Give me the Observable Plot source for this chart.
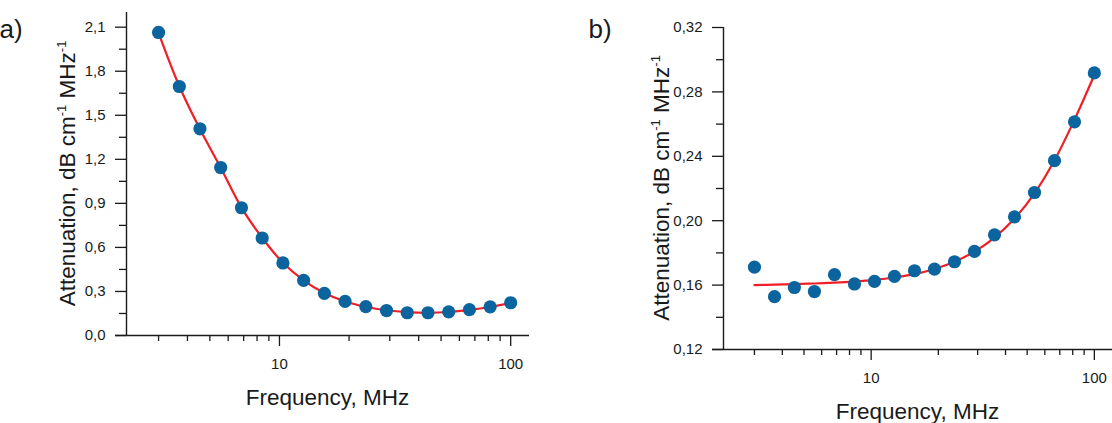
<!DOCTYPE html>
<html>
<head>
<meta charset="utf-8">
<script src="https://cdn.jsdelivr.net/npm/d3@7"></script>
<script src="https://cdn.jsdelivr.net/npm/@observablehq/plot@0.6"></script>
<style>
  body { margin: 0; background: #ffffff; }
  #fig { position: relative; width: 1112px; height: 423px; overflow: hidden; background: #ffffff; }
  #fig svg { position: absolute; top: 0; }
</style>
</head>
<body>
<div id="fig"></div>
<script>
// Measurement frequencies, MHz (shared by both samples)
const frequency = [3, 3.69, 4.53, 5.57, 6.85, 8.42, 10.35, 12.72, 15.64, 19.22, 23.63, 29.04, 35.7, 43.88, 53.94, 66.3, 81.5, 100];

// a) attenuation per unit frequency, dB cm^-1 MHz^-1, and its fitted curve
const attenuationA = [2.064, 1.696, 1.408, 1.144, 0.870, 0.664, 0.494, 0.375, 0.287, 0.232, 0.197, 0.170, 0.155, 0.155, 0.161, 0.176, 0.195, 0.223];
const fitA = [2.062, 1.698, 1.406, 1.143, 0.871, 0.666, 0.495, 0.376, 0.289, 0.232, 0.196, 0.172, 0.159, 0.155, 0.160, 0.174, 0.194, 0.221];

// b) attenuation per unit frequency, dB cm^-1 MHz^-1, and its fitted curve
const attenuationB = [0.1712, 0.1528, 0.1585, 0.1560, 0.1665, 0.1607, 0.1623, 0.1654, 0.1689, 0.1699, 0.1745, 0.1809, 0.1912, 0.2024, 0.2175, 0.2373, 0.2614, 0.2918];
const fitB = [0.1600, 0.1603, 0.1606, 0.1610, 0.1615, 0.1622, 0.1632, 0.1647, 0.1668, 0.1700, 0.1745, 0.1808, 0.1895, 0.2013, 0.2170, 0.2375, 0.2628, 0.2905];

// Axis ticks
const freqTicks = [10, 100];
const freqMinorTicks = [3, 4, 5, 6, 7, 8, 9, 20, 30, 40, 50, 60, 70, 80, 90];
const ticksA = [0, 0.3, 0.6, 0.9, 1.2, 1.5, 1.8, 2.1];
const minorTicksA = [0.15, 0.45, 0.75, 1.05, 1.35, 1.65, 1.95];
const ticksB = [0.12, 0.16, 0.20, 0.24, 0.28, 0.32];
const minorTicksB = [0.14, 0.18, 0.22, 0.26, 0.30];

const FONT = "'Liberation Sans', Arial, Helvetica, sans-serif";
const DOT = "#0b649d";
const FIT = "#ee1f26";
const INK = "#1a1a1a";

function panel({letter, values, fit, yDomain, yTicks, yMinor, decimals, left, margin, labelX, xLabelY, letterX}) {
  const width = 556, height = 423;
  const xDomain = [2.18, 120.6];
  const rows = frequency.map((f, i) => ({f, v: values[i], fit: fit[i]}));
  const fmt = d => d.toFixed(decimals).replace(".", ",");

  const svg = Plot.plot({
    width, height,
    marginLeft: margin.left, marginRight: margin.right,
    marginTop: margin.top, marginBottom: margin.bottom,
    x: {type: "log", domain: xDomain},
    y: {domain: yDomain},
    style: {fontFamily: FONT, fontSize: "15px", color: INK, background: "transparent", overflow: "visible"},
    marks: [
      // axis lines; the x axis runs under the y tick marks
      Plot.ruleX([xDomain[0]], {stroke: INK, strokeWidth: 1.4}),
      Plot.ruleY([yDomain[0]], {stroke: INK, strokeWidth: 1.4, insetLeft: -11}),
      Plot.axisY(yTicks, {tickSize: 11, tickPadding: 10, tickFormat: fmt, label: null, strokeWidth: 1.3, fontSize: 15}),
      Plot.axisY(yMinor, {tickSize: 7, tickFormat: () => "", label: null, strokeWidth: 1.3}),
      Plot.axisX(freqTicks, {tickSize: 11, tickPadding: 12, tickFormat: d => String(d), label: null, strokeWidth: 1.3, fontSize: 15}),
      Plot.axisX(freqMinorTicks, {tickSize: 6, tickFormat: () => "", label: null, strokeWidth: 1.3}),
      Plot.line(rows, {x: "f", y: "fit", stroke: FIT, strokeWidth: 2.2, curve: "catmull-rom"}),
      Plot.dot(rows, {x: "f", y: "v", r: 6.6, fill: DOT, stroke: "none"})
    ]
  });
  svg.style.left = left + "px";

  const s = d3.select(svg);
  const frameCx = (margin.left + width - margin.right) / 2;
  const frameCy = (margin.top + height - margin.bottom) / 2;

  s.append("text")
    .attr("x", letterX).attr("y", 38)
    .attr("font-family", FONT).attr("font-size", 26).attr("fill", INK)
    .text(letter);

  s.append("text")
    .attr("x", frameCx).attr("y", xLabelY)
    .attr("text-anchor", "middle")
    .attr("font-family", FONT).attr("font-size", 22.5).attr("fill", INK)
    .text("Frequency, MHz");

  const yl = s.append("text")
    .attr("transform", `translate(${labelX},${frameCy}) rotate(-90)`)
    .attr("text-anchor", "middle")
    .attr("font-family", FONT).attr("font-size", 22.5).attr("fill", INK);
  yl.append("tspan").text("Attenuation, dB cm");
  yl.append("tspan").attr("dy", -9).attr("font-size", 13).text("-1");
  yl.append("tspan").attr("dy", 9).text(" MHz");
  yl.append("tspan").attr("dy", -9).attr("font-size", 13).text("-1");

  return svg;
}

const fig = document.getElementById("fig");

fig.appendChild(panel({
  letter: "a)", values: attenuationA, fit: fitA,
  yDomain: [0, 2.2], yTicks: ticksA, yMinor: minorTicksA, decimals: 1,
  left: 0, margin: {left: 126, right: 27, top: 12, bottom: 88},
  labelX: 75, xLabelY: 405, letterX: 11
}));

fig.appendChild(panel({
  letter: "b)", values: attenuationB, fit: fitB,
  yDomain: [0.12, 0.32], yTicks: ticksB, yMinor: minorTicksB, decimals: 2,
  left: 556, margin: {left: 167, right: 0, top: 27, bottom: 74},
  labelX: 113, xLabelY: 419, letterX: 44
}));
</script>
</body>
</html>
